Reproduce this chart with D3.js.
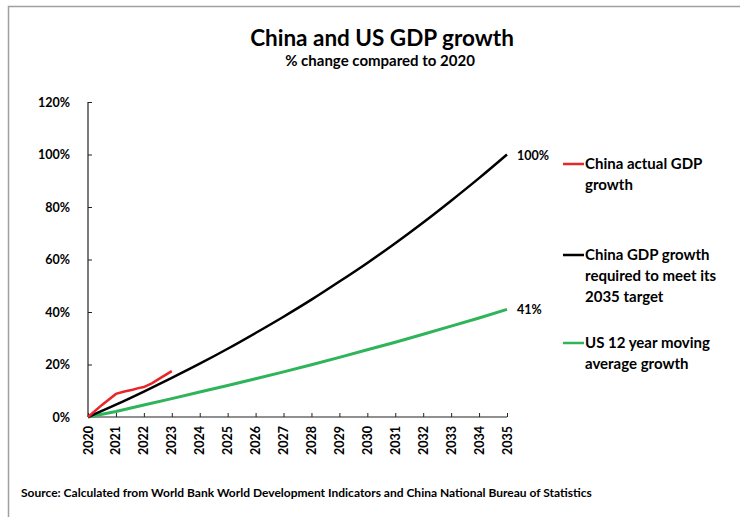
<!DOCTYPE html>
<html>
<head>
<meta charset="utf-8">
<script src="https://cdn.jsdelivr.net/npm/d3@7"></script>
<style>
  html, body { margin: 0; padding: 0; background: #fff; }
  svg { display: block; font-family: Lato, "Open Sans", sans-serif; }
</style>
</head>
<body>
<svg id="chart" width="740" height="517"></svg>
<script>
// Years on the x axis
const years = [2020, 2021, 2022, 2023, 2024, 2025, 2026, 2027, 2028, 2029, 2030, 2031, 2032, 2033, 2034, 2035];

// China GDP growth required to double by 2035 (% vs 2020)
const chinaRequired = [0, 4.7, 9.7, 14.9, 20.3, 26.0, 32.0, 38.2, 44.7, 51.6, 58.7, 66.2, 74.1, 82.4, 91.0, 100];

// US 12 year moving average growth (% vs 2020)
const usGrowth = [0, 2.1, 4.6, 7.0, 9.5, 12.0, 14.6, 17.2, 19.9, 22.7, 25.6, 28.5, 31.5, 34.6, 37.7, 41];

// China actual GDP growth, quarterly readings (% vs 2020)
const chinaActualT = [2020, 2020.5, 2021, 2021.3, 2021.6, 2021.8, 2022, 2022.3, 2022.6, 2023];
const chinaActual  = [0, 4.6, 8.8, 9.7, 10.4, 11.0, 11.4, 12.9, 14.9, 17.5];

const yTicks = [0, 20, 40, 60, 80, 100, 120];

const legendItems = [
  { color: "#e8262a", lines: ["China actual GDP", "growth"] },
  { color: "#000000", lines: ["China GDP growth", "required to meet its", "2035 target"] },
  { color: "#2fb45a", lines: ["US 12 year moving", "average growth"] }
];

const svg = d3.select("#chart");

// outer frame
svg.append("rect")
  .attr("x", 8.5).attr("y", 6.5)
  .attr("width", 740).attr("height", 520)
  .attr("fill", "none").attr("stroke", "#a0a0a0").attr("stroke-width", 1.5);

// titles
svg.append("text")
  .attr("x", 382).attr("y", 46)
  .attr("text-anchor", "middle")
  .attr("font-size", 22.5).attr("font-weight", 700)
  .text("China and US GDP growth");
svg.append("text")
  .attr("x", 380).attr("y", 66)
  .attr("text-anchor", "middle")
  .attr("font-size", 15).attr("font-weight", 700)
  .text("% change compared to 2020");

const x = d3.scaleLinear().domain([2020, 2035]).range([88, 507]);
const y = d3.scaleLinear().domain([0, 120]).range([417, 102]);

// y axis
const yAxis = svg.append("g")
  .attr("transform", `translate(${x(2020)},0)`)
  .call(d3.axisRight(y).tickValues(yTicks).tickSize(4).tickFormat(""));
yAxis.select(".domain").attr("d", `M0,${y(120)}V${y(0)}`).attr("stroke", "#222").attr("stroke-width", 1.2);
yAxis.selectAll(".tick line").attr("stroke", "#222");

svg.append("g").selectAll("text")
  .data(yTicks).join("text")
  .attr("x", 70).attr("y", d => y(d) + 4.5)
  .attr("text-anchor", "end")
  .attr("font-size", 12.5).attr("font-weight", 700)
  .text(d => d + "%");

// x axis
const xAxis = svg.append("g")
  .attr("transform", `translate(0,${y(0)})`)
  .call(d3.axisTop(x).tickValues(years).tickSize(4).tickFormat(""));
xAxis.select(".domain").attr("d", `M${x(2020)},0H${x(2035)}`).attr("stroke", "#222").attr("stroke-width", 1.2);
xAxis.selectAll(".tick line").attr("stroke", "#222");

svg.append("g").selectAll("text")
  .data(years).join("text")
  .attr("transform", d => `translate(${x(d) + 4.5},${y(0) + 9}) rotate(-90)`)
  .attr("text-anchor", "end")
  .attr("font-size", 12.5).attr("font-weight", 700)
  .text(d => d);

// series
const line = d3.line().x(d => x(d[0])).y(d => y(d[1]));

svg.append("path")
  .datum(years.map((t, i) => [t, usGrowth[i]]))
  .attr("d", line)
  .attr("fill", "none").attr("stroke", "#2fb45a").attr("stroke-width", 3);

svg.append("path")
  .datum(years.map((t, i) => [t, chinaRequired[i]]))
  .attr("d", d3.line().curve(d3.curveMonotoneX).x(d => x(d[0])).y(d => y(d[1])))
  .attr("fill", "none").attr("stroke", "#000").attr("stroke-width", 2.5);

svg.append("path")
  .datum(chinaActualT.map((t, i) => [t, chinaActual[i]]))
  .attr("d", line)
  .attr("fill", "none").attr("stroke", "#e8262a").attr("stroke-width", 2.5);

// end value labels
svg.append("text")
  .attr("x", x(2035) + 10).attr("y", y(chinaRequired[chinaRequired.length - 1]) + 5)
  .attr("font-size", 12.5).attr("font-weight", 700)
  .text(chinaRequired[chinaRequired.length - 1] + "%");
svg.append("text")
  .attr("x", x(2035) + 10).attr("y", y(usGrowth[usGrowth.length - 1]) + 5)
  .attr("font-size", 12.5).attr("font-weight", 700)
  .text(usGrowth[usGrowth.length - 1] + "%");

// legend
const legendY = [164, 255, 343];
const leg = svg.append("g");
legendItems.forEach((item, i) => {
  const g = leg.append("g").attr("transform", `translate(563,${legendY[i]})`);
  g.append("line")
    .attr("x1", 0).attr("x2", 21).attr("y1", 0).attr("y2", 0)
    .attr("stroke", item.color).attr("stroke-width", 2.5);
  item.lines.forEach((t, j) => {
    g.append("text")
      .attr("x", 22).attr("y", 5 + j * 21)
      .attr("font-size", 15).attr("font-weight", 700)
      .text(t);
  });
});

// source note
svg.append("text")
  .attr("x", 21).attr("y", 497)
  .attr("font-size", 12).attr("font-weight", 700)
  .text("Source:  Calculated from World Bank World Development Indicators and China National Bureau of Statistics");
</script>
</body>
</html>
